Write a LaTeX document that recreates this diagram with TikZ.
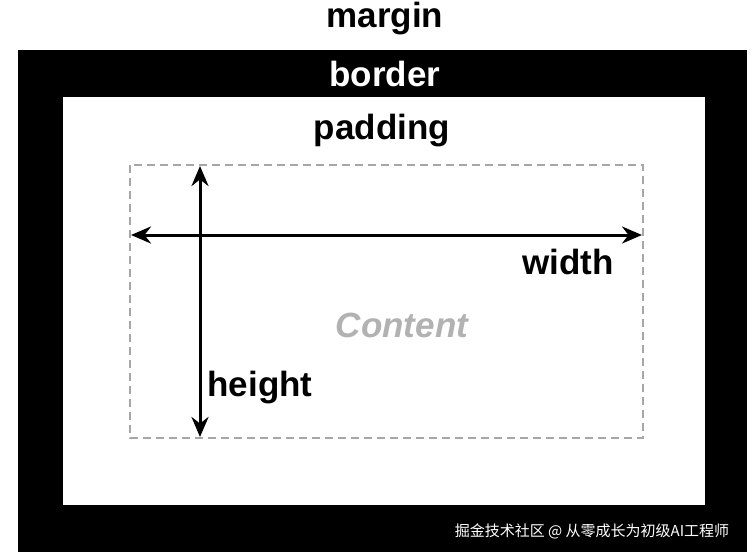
\documentclass[tikz,border=0pt]{standalone}
\usepackage{fontspec}
\setmainfont{Liberation Sans}
\newfontfamily\cjk{Noto Sans CJK SC}
\usetikzlibrary{arrows.meta}
\tikzset{
	lbl/.style={font=\fontsize{35}{38}\selectfont\bfseries, inner sep=0pt},
	dim/.style={{Stealth[length=20pt,width=17pt]}-{Stealth[length=20pt,width=17pt]}, line width=3pt}
}
\begin{document}
\begin{tikzpicture}[x=1pt,y=-1pt]
		\useasboundingbox (0,0) rectangle (754,556);
		\fill[white] (0,0) rectangle (754,556);

		\fill[black] (18,50) rectangle (747,552);
		\fill[white] (63,97) rectangle (705,505);
		\draw[gray!70, line width=1.8pt, dash pattern=on 8pt off 5pt] (130,165) rectangle (643,438);

		\node[lbl] (margin) at (385,19) {margin};
		\node[lbl, white] (border) at (385,74) {border};
		\node[lbl] (padding) at (382,131) {padding};

		\coordinate (wl) at (131,235);
		\coordinate (wr) at (642,235);
		\coordinate (ht) at (200,166);
		\coordinate (hb) at (200,437);
		\draw[dim] (wl) -- (wr);
		\draw[dim] (ht) -- (hb);

		\node[lbl] (width) at (568,262) {width};
		\node[lbl] (height) at (260,388) {height};
		\node[lbl, gray!60, font=\fontsize{35}{38}\selectfont\bfseries\itshape] (content) at (402,325) {Content};

		\node[white, inner sep=0pt, font=\fontsize{15}{17}\selectfont\cjk] (mark) at (592,531) {掘金技术社区 @ 从零成长为初级AI工程师};
	\end{tikzpicture}
\end{document}
